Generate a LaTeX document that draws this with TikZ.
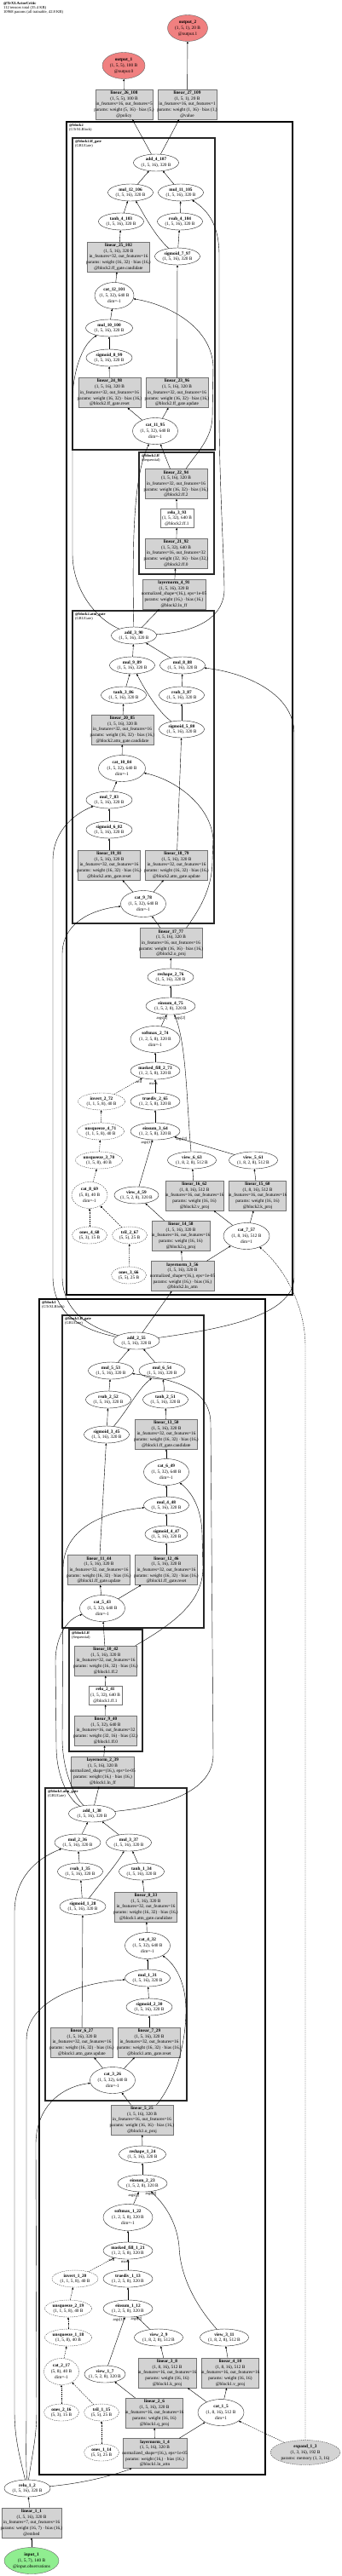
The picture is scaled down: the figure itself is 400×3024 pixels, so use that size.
\documentclass[tikz,border=0pt]{standalone}
\usepackage{fontspec}
\setmainfont{Liberation Serif}
\usetikzlibrary{arrows.meta,shapes.geometric}
\definecolor{layergray}{RGB}{211,211,211}
\definecolor{outred}{RGB}{240,128,128}
\definecolor{ingreen}{RGB}{144,238,144}
\newcommand{\tx}[1]{\makebox[0pt]{\begin{tabular}{@{}c@{}}#1\end{tabular}}}
\tikzset{
  op/.style={ellipse, draw=black!85, line width=0.4pt, inner sep=0pt, minimum width=53pt, minimum height=20pt},
  optall/.style={op, minimum height=31pt},
  maskop/.style={op, draw=black!70, dash pattern=on 1.5pt off 1pt},
  masktall/.style={maskop, minimum height=31pt},
  layer/.style={rectangle, draw=black!55, fill=layergray, line width=0.4pt, inner sep=0pt, minimum width=73pt, minimum height=35pt},
  relubox/.style={rectangle, draw=black!55, line width=0.4pt, inner sep=0pt, minimum width=39pt, minimum height=22pt},
  outnode/.style={op, fill=outred, draw=black!60, minimum width=47pt, minimum height=31pt},
  innode/.style={op, fill=ingreen, draw=black!60, minimum width=64pt, minimum height=31pt},
  memnode/.style={maskop, fill=layergray, minimum width=82pt, minimum height=29pt},
  lnk/.style={->, line width=0.4pt},
  masklnk/.style={lnk, dash pattern=on 1.5pt off 1pt},
  bigclu/.style={draw=black, line width=1.8pt},
  clu/.style={draw=black!85, line width=1.2pt},
  clulabel/.style={anchor=north west, inner sep=0pt, align=left, font=\fontsize{4.4}{5}\selectfont},
  elabel/.style={inner sep=0pt, font=\fontsize{4.6}{5}\selectfont},
}
\begin{document}
\begin{tikzpicture}[x=1pt, y=-1pt, >={Triangle[length=2.4pt,width=2pt]}, font=\fontsize{5.3}{6.67}\selectfont]
\useasboundingbox (0,0) rectangle (400,3024);

\node[anchor=north west, align=left, inner sep=0pt, font=\fontsize{4.6}{5}\selectfont] (title) at (4,2)
  {\textbf{@TrXLActorCritic}\\112 tensors total (35.4 KB)\\10968 params (all trainable, 42.8 KB)};

% clusters
\draw[bigclu] (78,143) rectangle (343,1520);
\draw[clu] (85,162) rectangle (252,528);
\draw[clu] (163,531) rectangle (251,674);
\draw[clu] (85,717) rectangle (251,1084);
\draw[bigclu] (46,1525) rectangle (311,2905);
\draw[clu] (73,1544) rectangle (239,1911);
\draw[clu] (81,1913) rectangle (167,2056);
\draw[clu] (53,2099) rectangle (219,2466);
\node[clulabel] (lbl_block2) at (81,145) {\textbf{@block2}\\(GTrXLBlock)};
\node[clulabel] (lbl_ffgate2) at (88,164) {\textbf{@block2.ff\_gate}\\(GRUGate)};
\node[clulabel] (lbl_ff2) at (166,533) {\textbf{@block2.ff}\\(Sequential)};
\node[clulabel] (lbl_attngate2) at (88,719) {\textbf{@block2.attn\_gate}\\(GRUGate)};
\node[clulabel] (lbl_block1) at (49,1527) {\textbf{@block1}\\(GTrXLBlock)};
\node[clulabel] (lbl_ffgate1) at (76,1546) {\textbf{@block1.ff\_gate}\\(GRUGate)};
\node[clulabel] (lbl_ff1) at (84,1915) {\textbf{@block1.ff}\\(Sequential)};
\node[clulabel] (lbl_attngate1) at (56,2101) {\textbf{@block1.attn\_gate}\\(GRUGate)};

% heads
\node[outnode] (output_2) at (220,33) {\tx{\textbf{output\_2}\\(1, 5, 1), 20 B\\@output.1}};
\node[outnode, minimum width=50pt] (output_1) at (145,77) {\tx{\textbf{output\_1}\\(1, 5, 5), 100 B\\@output.0}};
\node[layer, minimum width=67pt] (linear_26_108) at (145.5,122.5) {\tx{\textbf{linear\_26\_108}\\(1, 5, 5), 100 B\\in\_features=16, out\_features=5\\params: weight (5, 16) · bias (5,)\\@policy}};
\node[layer, minimum width=69pt] (linear_27_109) at (219.5,122.5) {\tx{\textbf{linear\_27\_109}\\(1, 5, 1), 20 B\\in\_features=16, out\_features=1\\params: weight (1, 16) · bias (1,)\\@value}};

% block2 ff_gate
\node[op] (add_4_107) at (183,191) {\tx{\textbf{add\_4\_107}\\(1, 5, 16), 320 B}};
\node[op] (mul_12_106) at (153,226) {\tx{\textbf{mul\_12\_106}\\(1, 5, 16), 320 B}};
\node[op] (mul_11_105) at (212,226) {\tx{\textbf{mul\_11\_105}\\(1, 5, 16), 320 B}};
\node[op] (tanh_4_103) at (142,260) {\tx{\textbf{tanh\_4\_103}\\(1, 5, 16), 320 B}};
\node[op] (rsub_4_104) at (211,260) {\tx{\textbf{rsub\_4\_104}\\(1, 5, 16), 320 B}};
\node[layer] (linear_25_102) at (139,301.5) {\tx{\textbf{linear\_25\_102}\\(1, 5, 16), 320 B\\in\_features=32, out\_features=16\\params: weight (16, 32) · bias (16,)\\@block2.ff\_gate.candidate}};
\node[op] (sigmoid_7_97) at (208,301) {\tx{\textbf{sigmoid\_7\_97}\\(1, 5, 16), 320 B}};
\node[optall, minimum width=46pt] (cat_12_101) at (134,347) {\tx{\textbf{cat\_12\_101}\\(1, 5, 32), 640 B\\dim=-1}};
\node[op, minimum width=55pt] (mul_10_100) at (128,385) {\tx{\textbf{mul\_10\_100}\\(1, 5, 16), 320 B}};
\node[op, minimum width=54pt] (sigmoid_8_99) at (128,420) {\tx{\textbf{sigmoid\_8\_99}\\(1, 5, 16), 320 B}};
\node[layer] (linear_24_98) at (128.5,461) {\tx{\textbf{linear\_24\_98}\\(1, 5, 16), 320 B\\in\_features=32, out\_features=16\\params: weight (16, 32) · bias (16,)\\@block2.ff\_gate.reset}};
\node[layer] (linear_23_96) at (207.5,461) {\tx{\textbf{linear\_23\_96}\\(1, 5, 16), 320 B\\in\_features=32, out\_features=16\\params: weight (16, 32) · bias (16,)\\@block2.ff\_gate.update}};
\node[optall] (cat_11_95) at (182,506) {\tx{\textbf{cat\_11\_95}\\(1, 5, 32), 640 B\\dim=-1}};

% block2 ff
\node[layer] (linear_22_94) at (206.5,568) {\tx{\textbf{linear\_22\_94}\\(1, 5, 16), 320 B\\in\_features=32, out\_features=16\\params: weight (16, 32) · bias (16,)\\@block2.ff.2}};
\node[relubox] (relu_3_93) at (207.5,608.5) {\tx{\textbf{relu\_3\_93}\\(1, 5, 32), 640 B\\@block2.ff.1}};
\node[layer] (linear_21_92) at (206.5,649.5) {\tx{\textbf{linear\_21\_92}\\(1, 5, 32), 640 B\\in\_features=16, out\_features=32\\params: weight (32, 16) · bias (32,)\\@block2.ff.0}};
\node[layer, minimum width=74pt] (layernorm_4_91) at (204,697.5) {\tx{\textbf{layernorm\_4\_91}\\(1, 5, 16), 320 B\\normalized\_shape=(16,), eps=1e-05\\params: weight (16,) · bias (16,)\\@block2.ln\_ff}};

% block2 attn_gate
\node[op] (add_3_90) at (157,746) {\tx{\textbf{add\_3\_90}\\(1, 5, 16), 320 B}};
\node[op] (mul_9_89) at (155,781) {\tx{\textbf{mul\_9\_89}\\(1, 5, 16), 320 B}};
\node[op] (mul_8_88) at (214,781) {\tx{\textbf{mul\_8\_88}\\(1, 5, 16), 320 B}};
\node[op] (tanh_3_86) at (145,816) {\tx{\textbf{tanh\_3\_86}\\(1, 5, 16), 320 B}};
\node[op] (rsub_3_87) at (213,816) {\tx{\textbf{rsub\_3\_87}\\(1, 5, 16), 320 B}};
\node[layer] (linear_20_85) at (143.5,856.5) {\tx{\textbf{linear\_20\_85}\\(1, 5, 16), 320 B\\in\_features=32, out\_features=16\\params: weight (16, 32) · bias (16,)\\@block2.attn\_gate.candidate}};
\node[op] (sigmoid_5_80) at (213,856) {\tx{\textbf{sigmoid\_5\_80}\\(1, 5, 16), 320 B}};
\node[optall, minimum width=55pt] (cat_10_84) at (143,902) {\tx{\textbf{cat\_10\_84}\\(1, 5, 32), 640 B\\dim=-1}};
\node[op, minimum width=54pt] (mul_7_83) at (128,939) {\tx{\textbf{mul\_7\_83}\\(1, 5, 16), 320 B}};
\node[op, minimum width=54pt] (sigmoid_6_82) at (128,974) {\tx{\textbf{sigmoid\_6\_82}\\(1, 5, 16), 320 B}};
\node[layer] (linear_19_81) at (128,1015.5) {\tx{\textbf{linear\_19\_81}\\(1, 5, 16), 320 B\\in\_features=32, out\_features=16\\params: weight (16, 32) · bias (16,)\\@block2.attn\_gate.reset}};
\node[layer] (linear_18_79) at (207,1015.5) {\tx{\textbf{linear\_18\_79}\\(1, 5, 16), 320 B\\in\_features=32, out\_features=16\\params: weight (16, 32) · bias (16,)\\@block2.attn\_gate.update}};
\node[optall] (cat_9_78) at (168,1061) {\tx{\textbf{cat\_9\_78}\\(1, 5, 32), 640 B\\dim=-1}};

% block2 attention
\node[layer] (linear_17_77) at (200.5,1107) {\tx{\textbf{linear\_17\_77}\\(1, 5, 16), 320 B\\in\_features=16, out\_features=16\\params: weight (16, 16) · bias (16,)\\@block2.o\_proj}};
\node[op, minimum width=54pt] (reshape_2_76) at (200,1147) {\tx{\textbf{reshape\_2\_76}\\(1, 5, 16), 320 B}};
\node[op, minimum width=58pt] (einsum_4_75) at (200,1181) {\tx{\textbf{einsum\_4\_75}\\(1, 5, 2, 8), 320 B}};
\node[optall, minimum width=58pt] (softmax_2_74) at (182,1220) {\tx{\textbf{softmax\_2\_74}\\(1, 2, 5, 8), 320 B\\dim=-1}};
\node[op, minimum width=58pt] (masked_fill_2_73) at (182,1257) {\tx{\textbf{masked\_fill\_2\_73}\\(1, 2, 5, 8), 320 B}};
\node[maskop, minimum width=55pt] (invert_2_72) at (119,1293) {\tx{\textbf{invert\_2\_72}\\(1, 1, 5, 8), 40 B}};
\node[op, minimum width=58pt] (truediv_2_65) at (182,1293) {\tx{\textbf{truediv\_2\_65}\\(1, 2, 5, 8), 320 B}};
\node[maskop, minimum width=55pt] (unsqueeze_4_71) at (118,1328) {\tx{\textbf{unsqueeze\_4\_71}\\(1, 1, 5, 8), 40 B}};
\node[op, minimum width=58pt] (einsum_3_64) at (182,1328) {\tx{\textbf{einsum\_3\_64}\\(1, 2, 5, 8), 320 B}};
\node[maskop, minimum width=55pt] (unsqueeze_3_70) at (116,1362) {\tx{\textbf{unsqueeze\_3\_70}\\(1, 5, 8), 40 B}};
\node[op, minimum width=57pt] (view_6_63) at (225,1362) {\tx{\textbf{view\_6\_63}\\(1, 8, 2, 8), 512 B}};
\node[op, minimum width=57pt] (view_5_61) at (297,1362) {\tx{\textbf{view\_5\_61}\\(1, 8, 2, 8), 512 B}};
\node[masktall, minimum width=42pt] (cat_8_69) at (105,1403) {\tx{\textbf{cat\_8\_69}\\(5, 8), 40 B\\dim=-1}};
\node[op, minimum width=52pt] (view_4_59) at (160,1403) {\tx{\textbf{view\_4\_59}\\(1, 5, 2, 8), 320 B}};
\node[layer, minimum width=68pt] (linear_16_62) at (228,1403.5) {\tx{\textbf{linear\_16\_62}\\(1, 8, 16), 512 B\\in\_features=16, out\_features=16\\params: weight (16, 16)\\@block2.v\_proj}};
\node[layer, minimum width=67pt] (linear_15_60) at (302,1403.5) {\tx{\textbf{linear\_15\_60}\\(1, 8, 16), 512 B\\in\_features=16, out\_features=16\\params: weight (16, 16)\\@block2.k\_proj}};
\node[maskop, minimum width=41pt] (ones_4_68) at (105,1450) {\tx{\textbf{ones\_4\_68}\\(5, 3), 15 B}};
\node[maskop, minimum width=41pt] (tril_2_67) at (152,1450) {\tx{\textbf{tril\_2\_67}\\(5, 5), 25 B}};
\node[layer, minimum width=68pt] (linear_14_58) at (212,1450.5) {\tx{\textbf{linear\_14\_58}\\(1, 5, 16), 320 B\\in\_features=16, out\_features=16\\params: weight (16, 16)\\@block2.q\_proj}};
\node[optall, minimum width=54pt] (cat_7_57) at (289,1451) {\tx{\textbf{cat\_7\_57}\\(1, 8, 16), 512 B\\dim=1}};
\node[maskop, minimum width=41pt] (ones_3_66) at (151,1497) {\tx{\textbf{ones\_3\_66}\\(5, 5), 25 B}};
\node[layer, minimum width=74pt] (layernorm_3_56) at (214,1498) {\tx{\textbf{layernorm\_3\_56}\\(1, 5, 16), 320 B\\normalized\_shape=(16,), eps=1e-05\\params: weight (16,) · bias (16,)\\@block2.ln\_attn}};

% block1 ff_gate
\node[op, minimum width=54pt] (add_2_55) at (160,1574) {\tx{\textbf{add\_2\_55}\\(1, 5, 16), 320 B}};
\node[op] (mul_5_53) at (130,1609) {\tx{\textbf{mul\_5\_53}\\(1, 5, 16), 320 B}};
\node[op, minimum width=54pt] (mul_6_54) at (190,1609) {\tx{\textbf{mul\_6\_54}\\(1, 5, 16), 320 B}};
\node[op] (rsub_2_52) at (127,1643) {\tx{\textbf{rsub\_2\_52}\\(1, 5, 16), 320 B}};
\node[op] (tanh_2_51) at (194,1643) {\tx{\textbf{tanh\_2\_51}\\(1, 5, 16), 320 B}};
\node[op] (sigmoid_3_45) at (125,1684) {\tx{\textbf{sigmoid\_3\_45}\\(1, 5, 16), 320 B}};
\node[layer] (linear_13_50) at (195,1683.5) {\tx{\textbf{linear\_13\_50}\\(1, 5, 16), 320 B\\in\_features=32, out\_features=16\\params: weight (16, 32) · bias (16,)\\@block1.ff\_gate.candidate}};
\node[optall] (cat_6_49) at (195,1728) {\tx{\textbf{cat\_6\_49}\\(1, 5, 32), 640 B\\dim=-1}};
\node[op] (mul_4_48) at (195,1767) {\tx{\textbf{mul\_4\_48}\\(1, 5, 16), 320 B}};
\node[op, minimum width=50pt] (sigmoid_4_47) at (195,1801) {\tx{\textbf{sigmoid\_4\_47}\\(1, 5, 16), 320 B}};
\node[layer] (linear_11_44) at (116,1843) {\tx{\textbf{linear\_11\_44}\\(1, 5, 16), 320 B\\in\_features=32, out\_features=16\\params: weight (16, 32) · bias (16,)\\@block1.ff\_gate.update}};
\node[layer] (linear_12_46) at (195,1843) {\tx{\textbf{linear\_12\_46}\\(1, 5, 16), 320 B\\in\_features=32, out\_features=16\\params: weight (16, 32) · bias (16,)\\@block1.ff\_gate.reset}};
\node[optall] (cat_5_43) at (120,1888) {\tx{\textbf{cat\_5\_43}\\(1, 5, 32), 640 B\\dim=-1}};

% block1 ff
\node[layer] (linear_10_42) at (124,1949.5) {\tx{\textbf{linear\_10\_42}\\(1, 5, 16), 320 B\\in\_features=32, out\_features=16\\params: weight (16, 32) · bias (16,)\\@block1.ff.2}};
\node[relubox] (relu_2_41) at (123.5,1990) {\tx{\textbf{relu\_2\_41}\\(1, 5, 32), 640 B\\@block1.ff.1}};
\node[layer] (linear_9_40) at (124,2031.5) {\tx{\textbf{linear\_9\_40}\\(1, 5, 32), 640 B\\in\_features=16, out\_features=32\\params: weight (32, 16) · bias (32,)\\@block1.ff.0}};
\node[layer, minimum width=74pt] (layernorm_2_39) at (120.5,2079.5) {\tx{\textbf{layernorm\_2\_39}\\(1, 5, 16), 320 B\\normalized\_shape=(16,), eps=1e-05\\params: weight (16,) · bias (16,)\\@block1.ln\_ff}};

% block1 attn_gate
\node[op, minimum width=55pt] (add_1_38) at (108,2129) {\tx{\textbf{add\_1\_38}\\(1, 5, 16), 320 B}};
\node[op, minimum width=54pt] (mul_2_36) at (91,2163) {\tx{\textbf{mul\_2\_36}\\(1, 5, 16), 320 B}};
\node[op] (mul_3_37) at (151,2163) {\tx{\textbf{mul\_3\_37}\\(1, 5, 16), 320 B}};
\node[op] (rsub_1_35) at (94,2197) {\tx{\textbf{rsub\_1\_35}\\(1, 5, 16), 320 B}};
\node[op] (tanh_1_34) at (166,2197) {\tx{\textbf{tanh\_1\_34}\\(1, 5, 16), 320 B}};
\node[op, minimum width=54pt] (sigmoid_1_28) at (97,2238) {\tx{\textbf{sigmoid\_1\_28}\\(1, 5, 16), 320 B}};
\node[layer] (linear_8_33) at (171,2238.5) {\tx{\textbf{linear\_8\_33}\\(1, 5, 16), 320 B\\in\_features=32, out\_features=16\\params: weight (16, 32) · bias (16,)\\@block1.attn\_gate.candidate}};
\node[optall] (cat_4_32) at (173,2284) {\tx{\textbf{cat\_4\_32}\\(1, 5, 32), 640 B\\dim=-1}};
\node[op] (mul_1_31) at (173,2322) {\tx{\textbf{mul\_1\_31}\\(1, 5, 16), 320 B}};
\node[op, minimum width=54pt] (sigmoid_2_30) at (175,2356) {\tx{\textbf{sigmoid\_2\_30}\\(1, 5, 16), 320 B}};
\node[layer] (linear_6_27) at (96,2397.5) {\tx{\textbf{linear\_6\_27}\\(1, 5, 16), 320 B\\in\_features=32, out\_features=16\\params: weight (16, 32) · bias (16,)\\@block1.attn\_gate.update}};
\node[layer] (linear_7_29) at (175,2397.5) {\tx{\textbf{linear\_7\_29}\\(1, 5, 16), 320 B\\in\_features=32, out\_features=16\\params: weight (16, 32) · bias (16,)\\@block1.attn\_gate.reset}};
\node[optall] (cat_3_26) at (132,2442) {\tx{\textbf{cat\_3\_26}\\(1, 5, 32), 640 B\\dim=-1}};

% block1 attention
\node[layer] (linear_5_25) at (166.5,2488.5) {\tx{\textbf{linear\_5\_25}\\(1, 5, 16), 320 B\\in\_features=16, out\_features=16\\params: weight (16, 16) · bias (16,)\\@block1.o\_proj}};
\node[op, minimum width=55pt] (reshape_1_24) at (167,2529) {\tx{\textbf{reshape\_1\_24}\\(1, 5, 16), 320 B}};
\node[op, minimum width=58pt] (einsum_2_23) at (167,2563) {\tx{\textbf{einsum\_2\_23}\\(1, 5, 2, 8), 320 B}};
\node[optall, minimum width=58pt] (softmax_1_22) at (150,2603) {\tx{\textbf{softmax\_1\_22}\\(1, 2, 5, 8), 320 B\\dim=-1}};
\node[op, minimum width=58pt] (masked_fill_1_21) at (150,2642) {\tx{\textbf{masked\_fill\_1\_21}\\(1, 2, 5, 8), 320 B}};
\node[maskop, minimum width=54pt] (invert_1_20) at (88,2675) {\tx{\textbf{invert\_1\_20}\\(1, 1, 5, 8), 40 B}};
\node[op, minimum width=58pt] (truediv_1_13) at (150,2675) {\tx{\textbf{truediv\_1\_13}\\(1, 2, 5, 8), 320 B}};
\node[maskop, minimum width=55pt] (unsqueeze_2_19) at (80,2710) {\tx{\textbf{unsqueeze\_2\_19}\\(1, 1, 5, 8), 40 B}};
\node[op, minimum width=58pt] (einsum_1_12) at (150,2710) {\tx{\textbf{einsum\_1\_12}\\(1, 2, 5, 8), 320 B}};
\node[maskop, minimum width=55pt] (unsqueeze_1_18) at (80,2744) {\tx{\textbf{unsqueeze\_1\_18}\\(1, 5, 8), 40 B}};
\node[op, minimum width=57pt] (view_2_9) at (186,2744) {\tx{\textbf{view\_2\_9}\\(1, 8, 2, 8), 512 B}};
\node[op, minimum width=57pt] (view_3_11) at (263,2744) {\tx{\textbf{view\_3\_11}\\(1, 8, 2, 8), 512 B}};
\node[layer, minimum width=68pt] (linear_3_8) at (196,2785.5) {\tx{\textbf{linear\_3\_8}\\(1, 8, 16), 512 B\\in\_features=16, out\_features=16\\params: weight (16, 16)\\@block1.k\_proj}};
\node[layer, minimum width=67pt] (linear_4_10) at (270,2785.5) {\tx{\textbf{linear\_4\_10}\\(1, 8, 16), 512 B\\in\_features=16, out\_features=16\\params: weight (16, 16)\\@block1.v\_proj}};
\node[masktall, minimum width=41pt] (cat_2_17) at (72,2784) {\tx{\textbf{cat\_2\_17}\\(5, 8), 40 B\\dim=-1}};
\node[op, minimum width=48pt] (view_1_7) at (123,2787) {\tx{\textbf{view\_1\_7}\\(1, 5, 2, 8), 320 B}};
\node[layer, minimum width=67pt] (linear_2_6) at (181,2832.5) {\tx{\textbf{linear\_2\_6}\\(1, 5, 16), 320 B\\in\_features=16, out\_features=16\\params: weight (16, 16)\\@block1.q\_proj}};
\node[maskop, minimum width=41pt] (ones_2_16) at (72,2832) {\tx{\textbf{ones\_2\_16}\\(5, 3), 15 B}};
\node[maskop, minimum width=41pt] (tril_1_15) at (119,2832) {\tx{\textbf{tril\_1\_15}\\(5, 5), 25 B}};
\node[optall, minimum width=54pt] (cat_1_5) at (259,2832) {\tx{\textbf{cat\_1\_5}\\(1, 8, 16), 512 B\\dim=1}};
\node[maskop, minimum width=41pt] (ones_1_14) at (119,2879) {\tx{\textbf{ones\_1\_14}\\(5, 5), 25 B}};
\node[layer, minimum width=75pt] (layernorm_1_4) at (181.5,2880) {\tx{\textbf{layernorm\_1\_4}\\(1, 5, 16), 320 B\\normalized\_shape=(16,), eps=1e-05\\params: weight (16,) · bias (16,)\\@block1.ln\_attn}};

% inputs
\node[memnode] (expand_1_3) at (358,2879) {\tx{\textbf{expand\_1\_3}\\(1, 3, 16), 192 B\\params: memory (1, 3, 16)}};
\node[op, minimum width=54pt] (relu_1_2) at (32,2921) {\tx{\textbf{relu\_1\_2}\\(1, 5, 16), 320 B}};
\node[layer, minimum width=70pt] (linear_1_1) at (37,2961.5) {\tx{\textbf{linear\_1\_1}\\(1, 5, 16), 320 B\\in\_features=7, out\_features=16\\params: weight (16, 7) · bias (16,)\\@embed}};
\node[innode] (input_1) at (37,3006) {\tx{\textbf{input\_1}\\(1, 5, 7), 140 B\\@input.observations}};

% edge labels
\node[elabel] (lb_e4a) at (190,1195) {args[1]};
\node[elabel] (lb_e4b) at (211,1195) {args[2]};
\node[elabel] (lb_e3a) at (172,1341) {args[1]};
\node[elabel] (lb_e3b) at (213,1337) {args[2]};
\node[elabel] (lb_m2a) at (163,1270) {self};
\node[elabel] (lb_m2b) at (180,1272) {mask};
\node[elabel] (lb_e2a) at (157,2577) {args[1]};
\node[elabel] (lb_e2b) at (177,2575) {args[2]};
\node[elabel] (lb_m1a) at (131,2653) {self};
\node[elabel] (lb_m1b) at (147,2655) {mask};
\node[elabel] (lb_e1a) at (139,2723) {args[1]};
\node[elabel] (lb_e1b) at (160,2722) {args[2]};

% edges: heads and block2
\draw[lnk] (linear_26_108) -- (output_1);
\draw[lnk] (linear_27_109) -- (output_2);
\draw[lnk] (add_4_107) -- (linear_26_108);
\draw[lnk] (add_4_107) -- (linear_27_109);
\draw[lnk] (mul_12_106) -- (add_4_107);
\draw[lnk] (mul_11_105) -- (add_4_107);
\draw[lnk] (tanh_4_103) -- (mul_12_106);
\draw[lnk] (rsub_4_104) -- (mul_11_105);
\draw[lnk] (sigmoid_7_97) .. controls (180,275) and (168,250) .. (mul_12_106);
\draw[lnk] (sigmoid_7_97) -- (rsub_4_104);
\draw[lnk] (linear_25_102) -- (tanh_4_103);
\draw[lnk] (cat_12_101) -- (linear_25_102);
\draw[lnk] (mul_10_100) -- (cat_12_101);
\draw[lnk] (sigmoid_8_99) -- (mul_10_100);
\draw[lnk] (linear_24_98) -- (sigmoid_8_99);
\draw[lnk] (linear_23_96) -- (sigmoid_7_97);
\draw[lnk] (cat_11_95) -- (linear_24_98);
\draw[lnk] (cat_11_95) -- (linear_23_96);
\draw[lnk] (linear_22_94) -- (cat_11_95);
\draw[lnk] ([xshift=11.5pt]linear_22_94.north) .. controls (232,530) and (248,515) .. (249,490) -- (250,430) .. controls (248,385) and (200,358) .. (cat_12_101);
\draw[lnk] (relu_3_93) -- (linear_22_94);
\draw[lnk] (linear_21_92) -- (relu_3_93);
\draw[lnk] (layernorm_4_91) -- (linear_21_92);
\draw[lnk] (add_3_90) -- (layernorm_4_91);
\draw[lnk] (add_3_90) .. controls (155,640) and (156,560) .. (cat_11_95);
\draw[lnk] (add_3_90) .. controls (110,725) and (85,690) .. (85,650) -- (85,470) .. controls (85,440) and (95,405) .. (mul_10_100);
\draw[lnk] (add_3_90) .. controls (235,742) and (264,722) .. (263,690) .. controls (262,640) and (257,560) .. (257,480) -- (257,300) .. controls (257,265) and (245,248) .. (mul_11_105);
\draw[lnk] (mul_9_89) -- (add_3_90);
\draw[lnk] (mul_8_88) -- (add_3_90);
\draw[lnk] (tanh_3_86) -- (mul_9_89);
\draw[lnk] (rsub_3_87) -- (mul_8_88);
\draw[lnk] (sigmoid_5_80) -- (rsub_3_87);
\draw[lnk] (sigmoid_5_80) .. controls (185,835) and (170,810) .. (mul_9_89);
\draw[lnk] (linear_20_85) -- (tanh_3_86);
\draw[lnk] (cat_10_84) -- (linear_20_85);
\draw[lnk] (mul_7_83) -- (cat_10_84);
\draw[lnk] (sigmoid_6_82) -- (mul_7_83);
\draw[lnk] (linear_19_81) -- (sigmoid_6_82);
\draw[lnk] (linear_18_79) -- (sigmoid_5_80);
\draw[lnk] (cat_9_78) -- (linear_19_81);
\draw[lnk] (cat_9_78) -- (linear_18_79);
\draw[lnk] (linear_17_77) -- (cat_9_78);
\draw[lnk] ([xshift=18pt]linear_17_77.north) .. controls (232,1070) and (249,1045) .. (249,1010) -- (250,985) .. controls (247,945) and (205,915) .. (cat_10_84);
\draw[lnk] (reshape_2_76) -- (linear_17_77);
\draw[lnk] (einsum_4_75) -- (reshape_2_76);
\draw[lnk] (softmax_2_74) -- (einsum_4_75);
\draw[lnk] (view_6_63) .. controls (219,1300) and (219,1225) .. (einsum_4_75);
\draw[lnk] (masked_fill_2_73) -- (softmax_2_74);
\draw[masklnk] (invert_2_72) -- (masked_fill_2_73);
\draw[lnk] (truediv_2_65) -- (masked_fill_2_73);
\draw[lnk] (einsum_3_64) -- (truediv_2_65);
\draw[masklnk] (unsqueeze_4_71) -- (invert_2_72);
\draw[masklnk] (unsqueeze_3_70) -- (unsqueeze_4_71);
\draw[masklnk] (cat_8_69) -- (unsqueeze_3_70);
\draw[lnk] (view_4_59) -- (einsum_3_64);
\draw[lnk] (view_5_61) -- (einsum_3_64);
\draw[lnk] (linear_16_62) -- (view_6_63);
\draw[lnk] (linear_15_60) -- (view_5_61);
\draw[masklnk] (ones_4_68) -- (cat_8_69);
\draw[masklnk] (tril_2_67) -- (cat_8_69);
\draw[masklnk] (ones_3_66) -- (tril_2_67);
\draw[lnk] (linear_14_58) -- (view_4_59);
\draw[lnk] (cat_7_57) -- (linear_16_62);
\draw[lnk] (cat_7_57) -- (linear_15_60);
\draw[lnk] (layernorm_3_56) -- (linear_14_58);
\draw[lnk] (layernorm_3_56) -- (cat_7_57);
\draw[masklnk] (expand_1_3) -- (358,1580) .. controls (358,1535) and (335,1490) .. (cat_7_57);
\draw[lnk] (add_2_55) -- (layernorm_3_56);
\draw[lnk] (add_2_55) .. controls (105,1558) and (74,1540) .. (73,1500) -- (73,1120) .. controls (73,1085) and (105,1068) .. (cat_9_78);
\draw[lnk] (add_2_55) .. controls (100,1562) and (63,1545) .. (62,1500) -- (62,1010) .. controls (62,975) and (88,955) .. (mul_7_83);
\draw[lnk] (add_2_55) .. controls (260,1560) and (343,1545) .. (345,1500) -- (345,860) .. controls (344,815) and (290,790) .. (mul_8_88);

% edges: block1
\draw[lnk] (mul_5_53) -- (add_2_55);
\draw[lnk] (mul_6_54) -- (add_2_55);
\draw[lnk] (rsub_2_52) -- (mul_5_53);
\draw[lnk] (tanh_2_51) -- (mul_6_54);
\draw[lnk] (sigmoid_3_45) -- (rsub_2_52);
\draw[lnk] (sigmoid_3_45) .. controls (150,1655) and (162,1630) .. (mul_6_54);
\draw[lnk] (linear_13_50) -- (tanh_2_51);
\draw[lnk] (cat_6_49) -- (linear_13_50);
\draw[lnk] (mul_4_48) -- (cat_6_49);
\draw[lnk] (sigmoid_4_47) -- (mul_4_48);
\draw[lnk] (linear_12_46) -- (sigmoid_4_47);
\draw[lnk] (linear_11_44) -- (sigmoid_3_45);
\draw[lnk] (cat_5_43) -- (linear_11_44);
\draw[lnk] (cat_5_43) -- (linear_12_46);
\draw[lnk] (linear_10_42) -- (cat_5_43);
\draw[lnk] ([xshift=-2pt]linear_10_42.north east) .. controls (205,1905) and (238,1880) .. (238,1840) -- (237,1800) .. controls (236,1770) and (225,1752) .. (cat_6_49);
\draw[lnk] (relu_2_41) -- (linear_10_42);
\draw[lnk] (linear_9_40) -- (relu_2_41);
\draw[lnk] (layernorm_2_39) -- (linear_9_40);
\draw[lnk] (add_1_38) -- (layernorm_2_39);
\draw[lnk] (add_1_38) .. controls (80,2112) and (66,2085) .. (66,2050) -- (65,1950) .. controls (65,1920) and (80,1900) .. (cat_5_43);
\draw[lnk] (add_1_38) .. controls (88,2110) and (73,2080) .. (73,2040) -- (74,1840) .. controls (75,1795) and (120,1775) .. (mul_4_48);
\draw[lnk] (add_1_38) .. controls (200,2120) and (250,2100) .. (250,2060) -- (247,1670) .. controls (246,1632) and (210,1620) .. (mul_5_53);
\draw[lnk] (mul_2_36) -- (add_1_38);
\draw[lnk] (mul_3_37) -- (add_1_38);
\draw[lnk] (rsub_1_35) -- (mul_2_36);
\draw[lnk] (tanh_1_34) -- (mul_3_37);
\draw[lnk] (sigmoid_1_28) -- (rsub_1_35);
\draw[lnk] (sigmoid_1_28) .. controls (122,2205) and (137,2188) .. (mul_3_37);
\draw[lnk] (linear_8_33) -- (tanh_1_34);
\draw[lnk] (cat_4_32) -- (linear_8_33);
\draw[lnk] (mul_1_31) -- (cat_4_32);
\draw[lnk] (sigmoid_2_30) -- (mul_1_31);
\draw[lnk] (linear_7_29) -- (sigmoid_2_30);
\draw[lnk] (linear_6_27) -- (sigmoid_1_28);
\draw[lnk] (cat_3_26) -- (linear_6_27);
\draw[lnk] (cat_3_26) -- (linear_7_29);
\draw[lnk] (linear_5_25) -- (cat_3_26);
\draw[lnk] ([xshift=17pt]linear_5_25.north) .. controls (205,2445) and (218,2400) .. (218,2360) .. controls (218,2320) and (200,2302) .. (cat_4_32);
\draw[lnk] (reshape_1_24) -- (linear_5_25);
\draw[lnk] (einsum_2_23) -- (reshape_1_24);
\draw[lnk] (softmax_1_22) -- (einsum_2_23);
\draw[lnk] (view_3_11) .. controls (228,2705) and (211,2670) .. (210,2637) .. controls (207,2605) and (190,2585) .. (einsum_2_23);
\draw[lnk] (masked_fill_1_21) -- (softmax_1_22);
\draw[masklnk] (invert_1_20) -- (masked_fill_1_21);
\draw[lnk] (truediv_1_13) -- (masked_fill_1_21);
\draw[lnk] (einsum_1_12) -- (truediv_1_13);
\draw[masklnk] (unsqueeze_2_19) -- (invert_1_20);
\draw[masklnk] (unsqueeze_1_18) -- (unsqueeze_2_19);
\draw[masklnk] (cat_2_17) -- (unsqueeze_1_18);
\draw[lnk] (view_1_7) -- (einsum_1_12);
\draw[lnk] (view_2_9) -- (einsum_1_12);
\draw[lnk] (linear_3_8) -- (view_2_9);
\draw[lnk] (linear_4_10) -- (view_3_11);
\draw[lnk] (linear_2_6) -- (view_1_7);
\draw[masklnk] (ones_2_16) -- (cat_2_17);
\draw[masklnk] (tril_1_15) -- (cat_2_17);
\draw[masklnk] (ones_1_14) -- (tril_1_15);
\draw[lnk] (cat_1_5) -- (linear_3_8);
\draw[lnk] (cat_1_5) -- (linear_4_10);
\draw[lnk] (layernorm_1_4) -- (linear_2_6);
\draw[lnk] (layernorm_1_4) -- (cat_1_5);
\draw[masklnk] (expand_1_3) -- (cat_1_5);
\draw[lnk] (relu_1_2) .. controls (100,2915) and (135,2905) .. ([xshift=-27pt]layernorm_1_4.south);
\draw[lnk] (relu_1_2) .. controls (38,2880) and (43,2860) .. (43,2830) -- (42,2520) .. controls (41,2475) and (70,2450) .. (cat_3_26);
\draw[lnk] (relu_1_2) .. controls (30,2880) and (31,2860) .. (31,2830) -- (31,2395) .. controls (31,2350) and (90,2328) .. (mul_1_31);
\draw[lnk] (relu_1_2) .. controls (22,2880) and (17,2860) .. (17,2830) -- (17,2245) .. controls (17,2205) and (42,2182) .. (mul_2_36);
\draw[lnk] (linear_1_1) -- (relu_1_2);
\draw[lnk] (input_1) -- (linear_1_1);
\end{tikzpicture}
\end{document}
